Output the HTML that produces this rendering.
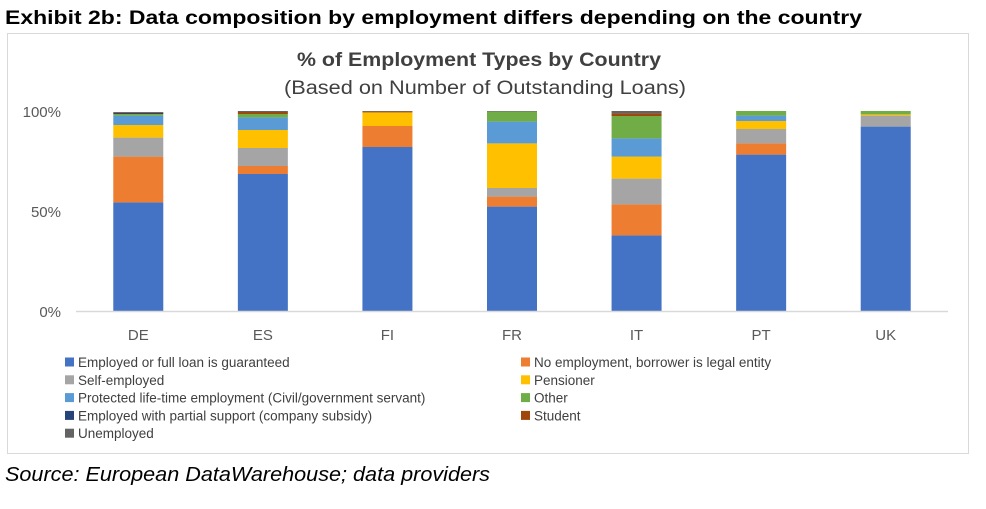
<!DOCTYPE html>
<html><head><meta charset="utf-8"><style>
html,body{margin:0;padding:0;background:#fff;}
svg{display:block;font-family:"Liberation Sans",sans-serif;}
</style></head><body>
<svg id="chart" width="986" height="509" viewBox="0 0 986 509">
<text x="5" y="24" font-size="19" font-weight="bold" fill="#000" textLength="857" lengthAdjust="spacingAndGlyphs">Exhibit 2b: Data composition by employment differs depending on the country</text>
<rect x="7.5" y="33.5" width="961" height="420" fill="#fff" stroke="#d9d9d9"/>
<text x="479" y="66" font-size="19" font-weight="bold" fill="#404040" text-anchor="middle" textLength="364" lengthAdjust="spacingAndGlyphs">% of Employment Types by Country</text>
<text x="485" y="94" font-size="19" fill="#404040" text-anchor="middle" textLength="402" lengthAdjust="spacingAndGlyphs">(Based on Number of Outstanding Loans)</text>
<g id="yaxis"></g>
<g id="bars"></g>
<line x1="76" y1="311.5" x2="948" y2="311.5" stroke="#d9d9d9" stroke-width="1.5"/>
<g id="xaxis"></g>
<g id="legend"></g>
<text x="5" y="481" font-size="20" font-style="italic" fill="#000" textLength="485" lengthAdjust="spacingAndGlyphs">Source: European DataWarehouse; data providers</text>
</svg>
<script>
const categories = ["DE","ES","FI","FR","IT","PT","UK"];
const seriesNames = ["Employed or full loan is guaranteed","No employment, borrower is legal entity","Self-employed","Pensioner","Protected life-time employment (Civil/government servant)","Other","Employed with partial support (company subsidy)","Student","Unemployed"];
const colors = ["#4472C4","#ED7D31","#A5A5A5","#FFC000","#5B9BD5","#70AD47","#264478","#9E480E","#636363"];
const employed   = [54.3, 68.5, 82.0, 52.2, 37.8, 78.2, 92.2];
const noEmploy   = [22.9,  4.0, 10.5,  5.0, 15.5,  5.6,  0.0];
const selfEmp    = [ 9.5,  9.0,  0.0,  4.3, 12.9,  7.2,  5.5];
const pensioner  = [ 6.3,  9.0,  6.8, 22.3, 11.0,  4.0,  0.6];
const protectedE = [ 4.7,  6.3,  0.0, 10.9,  9.1,  2.7,  0.0];
const other      = [ 0.8,  1.7,  0.0,  5.0, 11.2,  2.3,  1.7];
const partial    = [ 0.5,  0.0,  0.0,  0.0,  0.0,  0.0,  0.0];
const student    = [ 0.3,  1.0,  0.4,  0.0,  1.3,  0.0,  0.0];
const unemployed = [ 0.2,  0.5,  0.3,  0.3,  1.2,  0.0,  0.0];
const yTicks = [0, 50, 100];
const yTickLabels = ["0%","50%","100%"];
const series = [employed,noEmploy,selfEmp,pensioner,protectedE,other,partial,student,unemployed];

const NS="http://www.w3.org/2000/svg";
const plotL=76, plotR=948, y0=311, y100=111;
const band=(plotR-plotL)/categories.length;
const xC=i=>plotL+band*(i+0.5);
const yS=v=>y0-(v/100)*(y0-y100);
const barW=50;
function mk(tag,attrs){const e=document.createElementNS(NS,tag);for(const k in attrs)e.setAttribute(k,attrs[k]);return e;}

const ya=document.getElementById('yaxis');
yTicks.forEach((t,i)=>{
  const tx=mk('text',{x:61,y:yS(t)+6,'font-size':15,fill:'#595959','text-anchor':'end'});
  
  
  tx.textContent=yTickLabels[i];ya.appendChild(tx);
});
const bg=document.getElementById('bars');
categories.forEach((c,i)=>{
  let cum=0;
  series.forEach((s,j)=>{
    const v=s[i]; if(v<=0){return;}
    const top=yS(cum+v), bot=yS(cum);
    const r=mk('rect',{x:xC(i)-barW/2,y:top,width:barW,height:bot-top,fill:colors[j]});
    
    
    bg.appendChild(r); cum+=v;
  });
});
const xa=document.getElementById('xaxis');
categories.forEach((c,i)=>{
  const tx=mk('text',{x:xC(i),y:340,'font-size':15,fill:'#595959','text-anchor':'middle'});
  
  
  tx.textContent=c;xa.appendChild(tx);
});
const lg=document.getElementById('legend');
seriesNames.forEach((n,j)=>{
  const col=j%2, row=Math.floor(j/2);
  const x=col?521:65, y=362+row*17.8;
  const m=mk('rect',{x:x,y:y-4.5,width:9,height:9,fill:colors[j]});
  
  
  lg.appendChild(m);
  const t=mk('text',{x:x+13,y:y+5,'font-size':13.5,fill:'#404040'});
  
  
  t.textContent=n;lg.appendChild(t);
});
</script>
</body></html>
